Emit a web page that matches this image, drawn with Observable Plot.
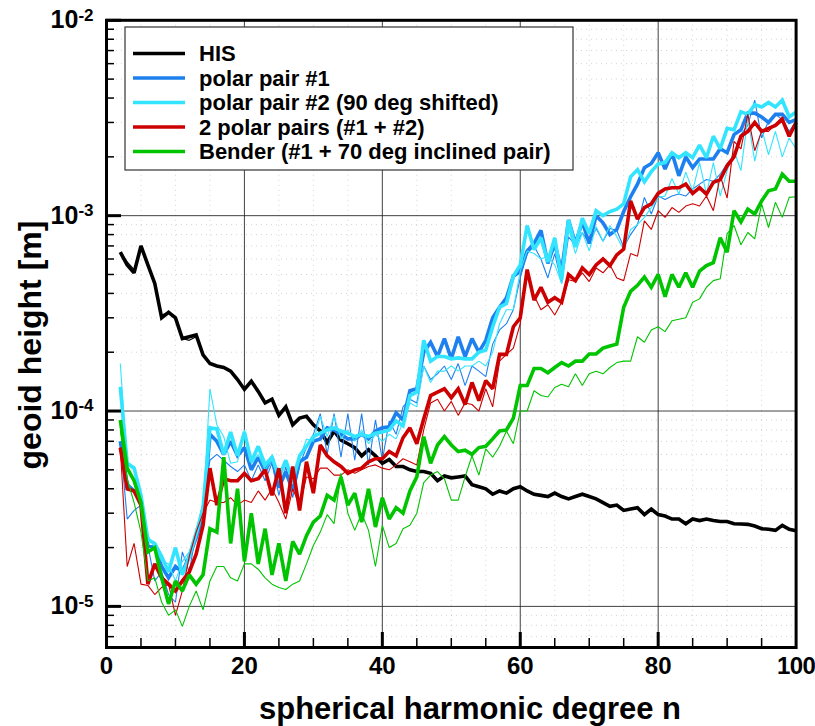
<!DOCTYPE html>
<html><head><meta charset="utf-8">
<script src="https://cdn.jsdelivr.net/npm/d3@7"></script>
<script src="https://cdn.jsdelivr.net/npm/@observablehq/plot@0.6"></script>
<style>
html,body{margin:0;padding:0;background:#fff;}
#chart{width:815px;height:726px;position:relative;}
</style></head><body><div id="chart"></div>
<script>
// spherical harmonic degree n = 2 .. 100
const degrees = d3.range(2, 101);

const hisThick = [
6.5e-4,5.6e-4,5.1e-4,7.0e-4,5.6e-4,4.5e-4,3.0e-4,3.2e-4,3.0e-4,2.35e-4,
2.4e-4,2.45e-4,1.94e-4,1.75e-4,1.7e-4,1.67e-4,1.6e-4,1.45e-4,1.29e-4,1.42e-4,
1.26e-4,1.1e-4,1.15e-4,9.5e-5,1.05e-4,8.5e-5,9.2e-5,9.4e-5,8.5e-5,7.9e-5,
6.9e-5,7.9e-5,7.1e-5,6.8e-5,6.5e-5,5.9e-5,6.35e-5,5.9e-5,5.4e-5,5.65e-5,
5.2e-5,5.2e-5,5.0e-5,4.9e-5,4.9e-5,4.8e-5,4.4e-5,4.65e-5,4.55e-5,4.6e-5,
4.65e-5,4.2e-5,4.1e-5,4.0e-5,3.75e-5,3.9e-5,3.8e-5,4.0e-5,4.1e-5,3.9e-5,
3.75e-5,3.7e-5,3.65e-5,3.8e-5,3.65e-5,3.55e-5,3.65e-5,3.75e-5,3.65e-5,3.55e-5,
3.4e-5,3.25e-5,3.3e-5,3.1e-5,3.15e-5,3.2e-5,2.95e-5,3.15e-5,2.95e-5,2.9e-5,
2.8e-5,2.8e-5,2.65e-5,2.8e-5,2.75e-5,2.8e-5,2.75e-5,2.72e-5,2.72e-5,2.65e-5,
2.64e-5,2.63e-5,2.58e-5,2.5e-5,2.48e-5,2.45e-5,2.6e-5,2.48e-5,2.44e-5];

const hisThin = [
6.5e-4,5.8e-4,5.3e-4,7.0e-4,5.6e-4,4.5e-4,3.1e-4,3.2e-4,3.0e-4,2.35e-4,
2.3e-4,2.4e-4,1.94e-4,1.75e-4,1.7e-4,1.67e-4,1.6e-4,1.45e-4,1.29e-4,1.42e-4,
1.26e-4,1.1e-4,1.15e-4,9.5e-5,1.05e-4,8.5e-5,9.2e-5,9.4e-5,8.5e-5,7.9e-5,
6.9e-5,7.9e-5,7.1e-5,6.8e-5,6.5e-5,5.9e-5,6.35e-5,5.9e-5,5.4e-5,5.65e-5,
5.2e-5,5.2e-5,5.0e-5,4.9e-5,4.9e-5,4.8e-5,4.4e-5,4.65e-5,4.55e-5,4.6e-5,
4.65e-5,4.2e-5,4.1e-5,4.0e-5,3.75e-5,3.9e-5,3.8e-5,4.0e-5,4.1e-5,3.9e-5,
3.75e-5,3.7e-5,3.65e-5,3.8e-5,3.65e-5,3.55e-5,3.65e-5,3.75e-5,3.65e-5,3.55e-5,
3.4e-5,3.25e-5,3.3e-5,3.1e-5,3.15e-5,3.2e-5,2.95e-5,3.15e-5,2.95e-5,2.9e-5,
2.8e-5,2.8e-5,2.65e-5,2.8e-5,2.75e-5,2.8e-5,2.75e-5,2.72e-5,2.72e-5,2.65e-5,
2.64e-5,2.63e-5,2.58e-5,2.5e-5,2.48e-5,2.45e-5,2.6e-5,2.48e-5,2.44e-5];

const p1Thick = [
7.0e-5,4.2e-5,3.9e-5,3.4e-5,2.05e-5,2.0e-5,1.6e-5,1.4e-5,1.6e-5,1.5e-5,
1.8e-5,2.25e-5,2.9e-5,7.6e-5,7.0e-5,6.0e-5,7.0e-5,5.9e-5,6.5e-5,5.0e-5,
5.8e-5,4.9e-5,5.8e-5,4.05e-5,4.9e-5,3.9e-5,5.5e-5,5.8e-5,7.0e-5,7.2e-5,
8.2e-5,8.0e-5,7.6e-5,7.2e-5,7.2e-5,7.6e-5,7.2e-5,7.9e-5,8.2e-5,8.3e-5,
9.8e-5,9.0e-5,1.27e-4,1.3e-4,2.0e-4,2.25e-4,1.9e-4,2.35e-4,1.85e-4,2.4e-4,
1.9e-4,2.35e-4,2.0e-4,2.3e-4,3.0e-4,3.4e-4,3.8e-4,4.9e-4,5.2e-4,6.6e-4,
7.2e-4,8.4e-4,5.7e-4,7.2e-4,5.2e-4,9.5e-4,7.2e-4,9.3e-4,7.2e-4,1.0e-3,
9.2e-4,8.0e-4,8.5e-4,1.05e-3,1.25e-3,1.45e-3,1.76e-3,1.85e-3,2.1e-3,1.73e-3,
2.1e-3,1.6e-3,2.0e-3,1.76e-3,1.95e-3,1.95e-3,1.95e-3,2.2e-3,2.1e-3,2.6e-3,
2.75e-3,3.35e-3,3.35e-3,3.2e-3,3.0e-3,3.3e-3,3.3e-3,3.0e-3,3.1e-3];

const p1Thin = [
7.0e-5,2.8e-5,3.1e-5,3.3e-5,2.05e-5,1.35e-5,1.5e-5,1.15e-5,1.05e-5,1.9e-5,
1.5e-5,2.4e-5,3.4e-5,5.6e-5,6.0e-5,5.6e-5,5.2e-5,4.9e-5,5.3e-5,4.4e-5,
5.3e-5,4.4e-5,5.4e-5,3.7e-5,5.2e-5,3.6e-5,5.3e-5,6.5e-5,7.6e-5,9.7e-5,
6.0e-5,9.7e-5,5.8e-5,9.7e-5,5.6e-5,9.7e-5,5.3e-5,9.0e-5,5.6e-5,8.9e-5,
7.6e-5,1.05e-4,1.15e-4,1.1e-4,1.7e-4,1.45e-4,1.55e-4,1.7e-4,1.45e-4,1.75e-4,
1.35e-4,1.7e-4,1.6e-4,1.5e-4,2.2e-4,2.6e-4,2.8e-4,3.3e-4,4.8e-4,6.4e-4,
7.0e-4,6.0e-4,4.8e-4,6.4e-4,4.5e-4,7.8e-4,7.0e-4,8.2e-4,7.2e-4,8.6e-4,
7.4e-4,8.6e-4,8.4e-4,6.9e-4,8.0e-4,9.0e-4,1.24e-3,1.02e-3,1.26e-3,1.21e-3,
1.26e-3,1.29e-3,1.26e-3,1.37e-3,1.45e-3,1.53e-3,1.5e-3,1.63e-3,1.85e-3,2.0e-3,
2.6e-3,2.9e-3,3.9e-3,2.5e-3,3.05e-3,3.3e-3,3.1e-3,2.7e-3,3.05e-3];

const p2Thick = [
1.33e-4,5.4e-5,5.1e-5,3.7e-5,2.2e-5,2.1e-5,1.8e-5,1.5e-5,2.0e-5,1.45e-5,
1.8e-5,2.35e-5,3.2e-5,8.2e-5,8.1e-5,6.0e-5,7.8e-5,5.9e-5,7.8e-5,5.5e-5,
6.6e-5,5.3e-5,5.8e-5,4.6e-5,5.6e-5,4.4e-5,5.9e-5,6.6e-5,7.4e-5,7.7e-5,
8.0e-5,8.2e-5,7.9e-5,7.7e-5,7.4e-5,7.6e-5,7.4e-5,7.7e-5,7.8e-5,8.0e-5,
8.9e-5,8.4e-5,1.2e-4,1.25e-4,2.3e-4,1.8e-4,1.9e-4,1.9e-4,1.85e-4,1.87e-4,
1.85e-4,1.85e-4,2.0e-4,2.05e-4,2.7e-4,3.4e-4,3.55e-4,4.9e-4,5.6e-4,8.9e-4,
6.7e-4,7.7e-4,5.8e-4,7.7e-4,4.7e-4,9.5e-4,6.9e-4,9.7e-4,8.1e-4,1.06e-3,
1.0e-3,1.05e-3,1.08e-3,1.15e-3,1.58e-3,1.72e-3,1.49e-3,1.68e-3,1.84e-3,1.87e-3,
2.1e-3,1.98e-3,2.1e-3,1.98e-3,2.3e-3,1.98e-3,2.55e-3,2.2e-3,2.8e-3,2.75e-3,
3.4e-3,3.3e-3,3.7e-3,3.6e-3,3.8e-3,3.6e-3,3.9e-3,3.2e-3,3.4e-3];

const p2Thin = [
1.75e-4,5.4e-5,5.2e-5,3.5e-5,2.3e-5,2.0e-5,1.7e-5,1.65e-5,1.35e-5,1.7e-5,
1.9e-5,2.5e-5,3.1e-5,1.3e-4,8.5e-5,7.4e-5,5.4e-5,5.5e-5,8.0e-5,5.4e-5,
6.0e-5,5.0e-5,5.6e-5,4.4e-5,5.4e-5,4.3e-5,5.7e-5,7.2e-5,7.0e-5,9.4e-5,
7.4e-5,9.4e-5,7.2e-5,8.0e-5,7.0e-5,8.0e-5,6.8e-5,7.6e-5,7.0e-5,7.6e-5,
7.2e-5,8.8e-5,1.1e-4,1.05e-4,1.7e-4,1.4e-4,1.6e-4,1.6e-4,1.7e-4,1.6e-4,
1.7e-4,1.7e-4,1.8e-4,1.7e-4,2.0e-4,2.8e-4,3.3e-4,3.3e-4,5.2e-4,6.6e-4,
6.4e-4,6.0e-4,6.2e-4,5.6e-4,4.5e-4,8.6e-4,6.4e-4,8.2e-4,6.6e-4,8.8e-4,
7.4e-4,8.9e-4,7.8e-4,6.7e-4,8.5e-4,9.0e-4,9.8e-4,1.1e-3,1.24e-3,1.26e-3,
1.55e-3,1.29e-3,1.67e-3,1.34e-3,1.87e-3,1.29e-3,1.87e-3,1.26e-3,1.7e-3,2.15e-3,
1.7e-3,3.15e-3,1.9e-3,2.8e-3,2.05e-3,2.7e-3,2.0e-3,2.5e-3,2.2e-3];

const twoThick = [
6.5e-5,4.0e-5,3.9e-5,3.3e-5,1.3e-5,1.65e-5,1.4e-5,1.3e-5,1.2e-5,1.35e-5,
1.5e-5,1.85e-5,2.6e-5,5.1e-5,3.3e-5,4.5e-5,4.4e-5,4.4e-5,4.8e-5,4.4e-5,
4.5e-5,5.0e-5,3.7e-5,5.1e-5,3.0e-5,5.2e-5,3.1e-5,5.5e-5,3.8e-5,6.7e-5,
5.9e-5,5.5e-5,5.2e-5,4.8e-5,5.0e-5,5.1e-5,5.5e-5,5.7e-5,5.7e-5,6.2e-5,
5.9e-5,7.3e-5,8.2e-5,6.8e-5,9.1e-5,1.2e-4,1.25e-4,1.3e-4,1.17e-4,1.3e-4,
1.08e-4,1.4e-4,1.13e-4,1.43e-4,1.3e-4,1.95e-4,1.95e-4,2.7e-4,3.0e-4,5.3e-4,
3.7e-4,4.3e-4,3.6e-4,3.8e-4,3.6e-4,5.0e-4,4.65e-4,5.4e-4,5.0e-4,5.6e-4,
6.0e-4,5.55e-4,6.3e-4,6.75e-4,1.19e-3,9.6e-4,1.1e-3,1.15e-3,1.3e-3,1.37e-3,
1.39e-3,1.39e-3,1.45e-3,1.3e-3,1.39e-3,1.29e-3,1.48e-3,1.53e-3,1.8e-3,2.0e-3,
2.55e-3,2.7e-3,3.0e-3,2.7e-3,2.8e-3,2.9e-3,3.1e-3,2.55e-3,3.0e-3];

const twoThin = [
6.5e-5,1.6e-5,2.1e-5,1.3e-5,1.28e-5,1.15e-5,1.25e-5,1.3e-5,9.0e-6,1.2e-5,
1.8e-5,2.4e-5,3.0e-5,3.5e-5,3.4e-5,3.4e-5,3.6e-5,3.3e-5,3.5e-5,3.4e-5,
3.9e-5,3.5e-5,4.0e-5,3.4e-5,2.8e-5,4.0e-5,3.3e-5,4.6e-5,4.5e-5,5.1e-5,
5.1e-5,4.7e-5,4.7e-5,5.0e-5,4.8e-5,5.0e-5,5.2e-5,5.3e-5,5.1e-5,5.0e-5,
5.3e-5,5.7e-5,5.5e-5,5.3e-5,8.0e-5,1.1e-4,1.15e-4,1.0e-4,1.12e-4,9.5e-5,
1.1e-4,1.08e-4,1.0e-4,1.3e-4,1.05e-4,1.8e-4,1.95e-4,2.1e-4,2.8e-4,5.2e-4,
3.9e-4,3.3e-4,3.5e-4,3.1e-4,3.6e-4,4.7e-4,4.6e-4,5.1e-4,4.6e-4,5.4e-4,
5.1e-4,5.6e-4,4.8e-4,4.65e-4,6.4e-4,6.2e-4,9.4e-4,8.5e-4,1.06e-3,9.8e-4,
1.1e-3,1.04e-3,1.12e-3,1.15e-3,1.12e-3,1.26e-3,1.06e-3,1.6e-3,1.23e-3,2.4e-3,
2.2e-3,3.3e-3,2.15e-3,2.7e-3,2.7e-3,2.95e-3,3.2e-3,2.6e-3,3.0e-3];

const benderThick = [
9.0e-5,5.1e-5,4.4e-5,3.4e-5,1.9e-5,2.0e-5,1.4e-5,1.03e-5,1.35e-5,1.2e-5,
1.45e-5,1.3e-5,1.45e-5,2.5e-5,2.4e-5,5.8e-5,2.1e-5,4.0e-5,1.7e-5,3.0e-5,
1.65e-5,2.5e-5,1.45e-5,2.1e-5,1.35e-5,2.15e-5,1.85e-5,2.3e-5,2.7e-5,2.9e-5,
3.7e-5,3.5e-5,4.6e-5,3.3e-5,3.8e-5,2.7e-5,4.0e-5,2.55e-5,3.6e-5,2.8e-5,
3.2e-5,3.0e-5,3.9e-5,4.6e-5,7.4e-5,5.4e-5,6.7e-5,7.4e-5,6.7e-5,6.2e-5,
6.3e-5,6.0e-5,6.5e-5,6.6e-5,7.2e-5,7.9e-5,8.0e-5,9.2e-5,1.35e-4,1.35e-4,
1.65e-4,1.65e-4,1.57e-4,1.67e-4,1.77e-4,1.7e-4,1.8e-4,1.8e-4,1.96e-4,1.96e-4,
2.1e-4,2.15e-4,2.2e-4,3.4e-4,4.1e-4,4.4e-4,4.85e-4,4.3e-4,5.0e-4,3.85e-4,
5.0e-4,4.3e-4,5.1e-4,4.3e-4,5.2e-4,5.55e-4,5.75e-4,7.7e-4,6.5e-4,1.06e-3,
9.3e-4,1.08e-3,1.02e-3,1.19e-3,1.34e-3,1.37e-3,1.63e-3,1.5e-3,1.5e-3];

const benderThin = [
8.0e-5,4.5e-5,3.4e-5,2.4e-5,1.35e-5,1.4e-5,1.05e-5,9.0e-6,9.6e-6,7.9e-6,
1.0e-5,1.2e-5,9.6e-6,1.35e-5,1.6e-5,1.6e-5,1.4e-5,1.35e-5,1.65e-5,1.65e-5,
1.55e-5,1.4e-5,1.3e-5,1.25e-5,1.22e-5,1.3e-5,1.35e-5,1.65e-5,2.05e-5,2.4e-5,
2.95e-5,2.65e-5,4.8e-5,3.0e-5,2.45e-5,3.0e-5,2.45e-5,1.6e-5,2.6e-5,2.0e-5,
2.1e-5,2.5e-5,2.6e-5,3.0e-5,4.3e-5,4.7e-5,4.9e-5,4.5e-5,3.5e-5,3.5e-5,
4.6e-5,5.9e-5,4.7e-5,6.4e-5,5.8e-5,6.6e-5,7.9e-5,6.8e-5,1.0e-4,1.0e-4,
1.27e-4,1.2e-4,1.18e-4,1.32e-4,1.37e-4,1.33e-4,1.55e-4,1.35e-4,1.55e-4,1.6e-4,
1.55e-4,1.67e-4,1.77e-4,1.8e-4,1.8e-4,2.4e-4,2.25e-4,2.6e-4,2.7e-4,2.55e-4,
2.9e-4,2.95e-4,3.0e-4,3.6e-4,3.75e-4,4.3e-4,4.65e-4,4.75e-4,8.1e-4,8.9e-4,
7.1e-4,8.2e-4,7.6e-4,1.15e-3,8.7e-4,1.17e-3,9.8e-4,1.24e-3,1.25e-3];

const seriesNames = ["HIS", "polar pair #1", "polar pair #2 (90 deg shifted)", "2 polar pairs (#1 + #2)", "Bender (#1 + 70 deg inclined pair)"];
const seriesColors = ["#000000", "#1e80ee", "#33e4ff", "#cc0000", "#00c400"];
const xTicks = [0, 20, 40, 60, 80, 100];
const yTicks = [1e-5, 1e-4, 1e-3, 1e-2];
const yTickExponents = ["-5", "-4", "-3", "-2"];
const xLabel = "spherical harmonic degree n";
const yLabel = "geoid height [m]";

const groups = [
  {name: seriesNames[0], color: seriesColors[0], thin: hisThin, thick: hisThick},
  {name: seriesNames[1], color: seriesColors[1], thin: p1Thin, thick: p1Thick},
  {name: seriesNames[2], color: seriesColors[2], thin: p2Thin, thick: p2Thick},
  {name: seriesNames[3], color: seriesColors[3], thin: twoThin, thick: twoThick},
  {name: seriesNames[4], color: seriesColors[4], thin: benderThin, thick: benderThick}
];

const W = 815, H = 726;
const mL = 106, mR = 19.4, mT = 19.8, mB = 79;
const plotW = W - mL - mR, plotH = H - mT - mB;
const FONT = "'Liberation Sans', Arial, Helvetica, sans-serif";

const yDomain = [6.16e-6, 1e-2];
const xMinor = d3.range(5, 100, 5).filter(d => d % 20 !== 0);
const yMinor = [];
for (const e of [-6, -5, -4, -3]) for (let m = 2; m <= 9; m++) {
  const v = m * Math.pow(10, e);
  if (v >= yDomain[0] && v <= yDomain[1]) yMinor.push(v);
}

const lineMarks = [];
for (const g of groups) {
  const thin = g.thin.map((v, i) => ({n: degrees[i], v}));
  const thick = g.thick.map((v, i) => ({n: degrees[i], v}));
  lineMarks.push(Plot.line(thin, {x: "n", y: "v", stroke: g.color, strokeWidth: 1.1, strokeLinejoin: "miter", strokeLinecap: "butt"}));
  lineMarks.push(Plot.line(thick, {x: "n", y: "v", stroke: g.color, strokeWidth: 3.6, strokeLinejoin: "miter", strokeLinecap: "butt", strokeMiterlimit: 2}));
}

const chart = Plot.plot({
  width: W, height: H,
  marginLeft: mL, marginRight: mR, marginTop: mT, marginBottom: mB,
  style: {fontFamily: FONT, background: "#fff", overflow: "visible"},
  x: {domain: [0, 100], label: null},
  y: {type: "log", domain: yDomain, label: null},
  marks: [
    Plot.gridX(xMinor, {stroke: "#888", strokeOpacity: 0.35, strokeDasharray: "1,4"}),
    Plot.gridY(yMinor, {stroke: "#888", strokeOpacity: 0.35, strokeDasharray: "1,4"}),
    Plot.gridX([20, 40, 60, 80], {stroke: "#222", strokeOpacity: 0.85, strokeWidth: 1}),
    Plot.gridY([1e-5, 1e-4, 1e-3], {stroke: "#222", strokeOpacity: 0.85, strokeWidth: 1}),
    ...lineMarks,
    Plot.tickY(yMinor, {y: d => d, insetRight: plotW - 8, strokeWidth: 1.5, stroke: "#000"}),
    Plot.tickY(yTicks, {y: d => d, insetRight: plotW - 15, strokeWidth: 3, stroke: "#000"}),
    Plot.tickX(xMinor, {x: d => d, insetTop: plotH - 9, strokeWidth: 1.5, stroke: "#000"}),
    Plot.tickX([20, 40, 60, 80], {x: d => d, insetTop: plotH - 15, strokeWidth: 3, stroke: "#000"}),
    Plot.frame({stroke: "#000", strokeWidth: 3}),
    Plot.axisX(xTicks, {tickSize: 0, tickPadding: 9, fontSize: 24, fontWeight: "bold", tickFormat: d => String(d), fill: "#000"}),
    Plot.axisY(yTicks, {tickSize: 0, tickPadding: 13, fontSize: 25, fontWeight: "bold", tickFormat: () => "10", fill: "#000"})
  ]
});

document.getElementById("chart").appendChild(chart);
const svg = d3.select(chart);
const NS = "http://www.w3.org/2000/svg";

// superscript exponents on y tick labels
chart.querySelectorAll('g[aria-label="y-axis tick label"] text').forEach((t, i) => {
  t.textContent = "";
  const base = document.createElementNS(NS, "tspan");
  base.textContent = "10";
  const sup = document.createElementNS(NS, "tspan");
  sup.setAttribute("dy", "-0.45em");
  sup.setAttribute("font-size", "17");
  sup.textContent = yTickExponents[i];
  t.append(base, sup);
});
// keep the last x label inside the picture, flush with the right edge
const xLabs = chart.querySelectorAll('g[aria-label="x-axis tick label"] text');
if (xLabs.length) { const last = xLabs[xLabs.length - 1]; last.setAttribute("letter-spacing", "-0.6"); }

// axis titles
svg.append("text")
  .attr("x", 470).attr("y", 719)
  .attr("text-anchor", "middle")
  .attr("font-family", FONT).attr("font-weight", "bold").attr("font-size", 31)
  .attr("fill", "#000").text(xLabel);
svg.append("text")
  .attr("transform", `translate(41,345) rotate(-90)`)
  .attr("text-anchor", "middle")
  .attr("font-family", FONT).attr("font-weight", "bold").attr("font-size", 32)
  .attr("fill", "#000").text(yLabel);

// legend
const lg = svg.append("g");
lg.append("rect").attr("x", 125).attr("y", 27).attr("width", 448).attr("height", 143)
  .attr("fill", "#fff").attr("stroke", "#333").attr("stroke-width", 1.2);
groups.forEach((g, i) => {
  const yy = 53.5 + i * 24.5;
  lg.append("line").attr("x1", 133).attr("x2", 185).attr("y1", yy).attr("y2", yy)
    .attr("stroke", g.color).attr("stroke-width", 3.6);
  lg.append("text").attr("x", 199).attr("y", yy).attr("dy", "0.35em")
    .attr("text-anchor", "start")
    .attr("font-family", FONT).attr("font-weight", "bold").attr("font-size", 22)
    .attr("fill", "#000").text(g.name);
});
</script>
</body></html>
